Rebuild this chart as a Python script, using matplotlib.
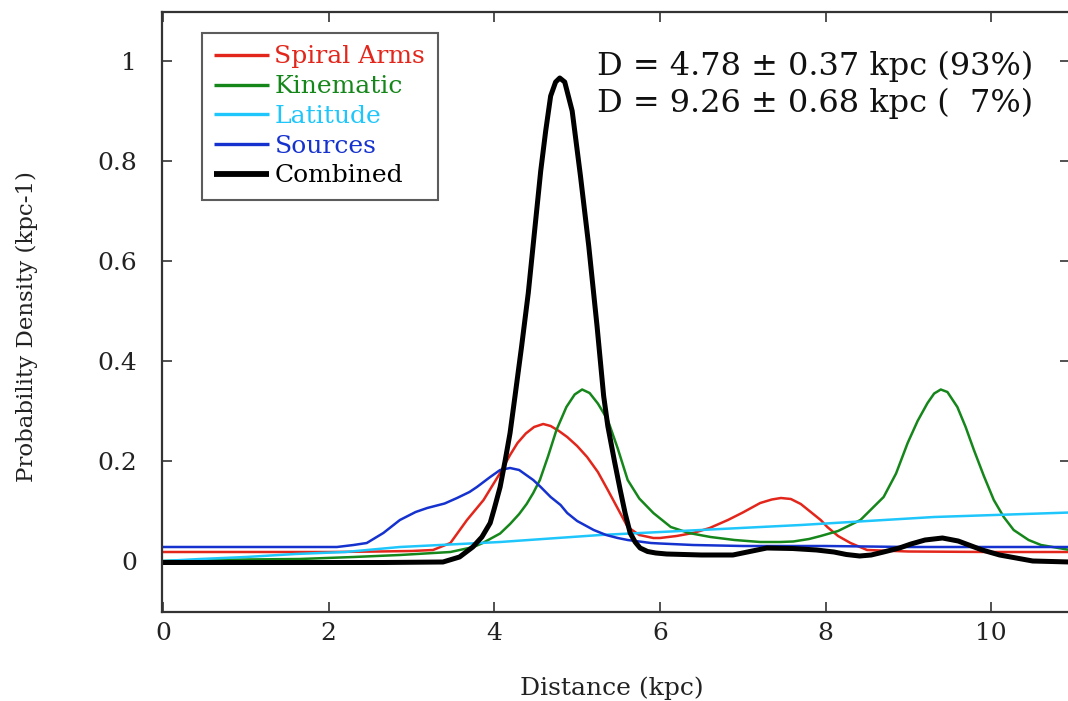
import matplotlib
matplotlib.use("Agg")
import matplotlib.pyplot as plt

plt.rcParams['font.family'] = ['DejaVu Serif']

# ---------------- data ----------------
spiral_x = [0, 1, 2, 2.6, 3.0, 3.26, 3.47, 3.67, 3.87, 4.07, 4.19, 4.28, 4.38, 4.48, 4.59, 4.68, 4.78,
            4.88, 5.0, 5.12, 5.25, 5.37, 5.49, 5.61, 5.75, 5.92, 6.0, 6.2, 6.4, 6.6, 6.82, 7.0, 7.21,
            7.35, 7.46, 7.58, 7.70, 7.82, 7.94, 8.02, 8.15, 8.30, 8.5, 9, 10, 10.95]
spiral_y = [0.018, 0.018, 0.018, 0.019, 0.02, 0.022, 0.036, 0.082, 0.122, 0.176, 0.212, 0.236, 0.255,
            0.268, 0.274, 0.27, 0.26, 0.248, 0.23, 0.208, 0.178, 0.142, 0.105, 0.068, 0.052, 0.046,
            0.046, 0.05, 0.056, 0.066, 0.082, 0.097, 0.116, 0.123, 0.126, 0.124, 0.114, 0.098, 0.082,
            0.068, 0.05, 0.036, 0.022, 0.019, 0.018, 0.018]

kin_x = [0, 0.5, 1.0, 1.65, 2.3, 2.86, 3.47, 3.75, 3.86, 4.07, 4.19, 4.30, 4.39, 4.47, 4.55, 4.65,
         4.75, 4.87, 4.97, 5.06, 5.15, 5.25, 5.37, 5.49, 5.61, 5.75, 5.92, 6.13, 6.35, 6.61, 6.9,
         7.21, 7.45, 7.61, 7.8, 7.94, 8.15, 8.42, 8.70, 8.85, 8.99, 9.11, 9.23, 9.31, 9.39, 9.47,
         9.59, 9.69, 9.79, 9.91, 10.03, 10.15, 10.27, 10.45, 10.6, 10.95]
kin_y = [0, 0.002, 0.003, 0.004, 0.008, 0.012, 0.018, 0.028, 0.036, 0.055, 0.074, 0.094, 0.114, 0.136,
         0.162, 0.21, 0.262, 0.308, 0.333, 0.343, 0.336, 0.315, 0.282, 0.225, 0.162, 0.125, 0.096,
         0.068, 0.056, 0.048, 0.042, 0.038, 0.038, 0.039, 0.044, 0.05, 0.06, 0.082, 0.128, 0.175,
         0.236, 0.28, 0.316, 0.335, 0.343, 0.338, 0.308, 0.268, 0.222, 0.17, 0.122, 0.088, 0.062,
         0.042, 0.032, 0.022]

lat_x = [0, 0.45, 1.0, 1.6, 2.2, 2.86, 4.07, 5.28, 6.49, 7.70, 9.31, 10.95]
lat_y = [0, 0.004, 0.008, 0.014, 0.018, 0.028, 0.038, 0.052, 0.062, 0.072, 0.088, 0.097]

src_x = [0, 1, 2.1, 2.3, 2.46, 2.66, 2.86, 3.05, 3.19, 3.4, 3.55, 3.7, 3.79, 3.95, 4.07, 4.19, 4.3,
         4.47, 4.56, 4.68, 4.80, 4.88, 5.0, 5.20, 5.35, 5.49, 5.61, 5.89, 6.0, 6.40, 7, 8, 9, 10, 10.95]
src_y = [0.028, 0.028, 0.028, 0.032, 0.036, 0.056, 0.082, 0.098, 0.106, 0.115, 0.126, 0.138, 0.148,
         0.168, 0.182, 0.186, 0.182, 0.162, 0.148, 0.128, 0.112, 0.096, 0.08, 0.062, 0.052, 0.046,
         0.042, 0.036, 0.035, 0.032, 0.03, 0.03, 0.028, 0.028, 0.028]

comb_x = [0, 1, 2, 2.66, 3.38, 3.58, 3.74, 3.85, 3.95, 4.0, 4.07, 4.13, 4.19, 4.25, 4.33, 4.41, 4.48,
          4.56, 4.62, 4.68, 4.74, 4.79, 4.85, 4.94, 5.04, 5.14, 5.24, 5.32, 5.37, 5.45, 5.52, 5.58,
          5.64, 5.70, 5.76, 5.85, 5.95, 6.08, 6.5, 6.88, 7.29, 7.6, 7.89, 8.1, 8.25, 8.41, 8.55, 8.7,
          8.89, 9.03, 9.2, 9.41, 9.6, 9.89, 10.1, 10.3, 10.5, 10.95]
comb_y = [-0.003, -0.003, -0.003, -0.003, -0.002, 0.008, 0.028, 0.048, 0.076, 0.105, 0.148, 0.2, 0.256,
          0.33, 0.43, 0.536, 0.65, 0.78, 0.86, 0.93, 0.958, 0.966, 0.958, 0.90, 0.77, 0.63, 0.47,
          0.33, 0.27, 0.20, 0.142, 0.095, 0.056, 0.038, 0.026, 0.019, 0.016, 0.014, 0.012, 0.012,
          0.026, 0.025, 0.022, 0.018, 0.013, 0.010, 0.012, 0.018, 0.026, 0.034, 0.042, 0.046, 0.04,
          0.022, 0.012, 0.006, 0.0, -0.002]

series = [
    ("Spiral Arms", spiral_x, spiral_y, "#e3261b", 1.8),
    ("Kinematic", kin_x, kin_y, "#15861a", 1.8),
    ("Latitude", lat_x, lat_y, "#1fc6fb", 1.8),
    ("Sources", src_x, src_y, "#1532cf", 1.8),
    ("Combined", comb_x, comb_y, "#000000", 3.6),
]

x_ticks = [0, 2, 4, 6, 8, 10]
y_ticks = [0, 0.2, 0.4, 0.6, 0.8, 1]
y_tick_labels = ["0", "0.2", "0.4", "0.6", "0.8", "1"]

# ---------------- figure ----------------
W, H = 1068, 701
fig = plt.figure(figsize=(W / 100, H / 100), dpi=100)
ax = fig.add_axes([162 / W, (H - 612) / H, 908 / W, 600 / H])

for name, xs, ys, col, lw in series:
    ax.plot(xs, ys, color=col, lw=lw, label=name, solid_joinstyle='round',
            solid_capstyle='butt')

ax.set_xlim(-0.012, 10.95)
ax.set_ylim(-0.102, 1.098)
ax.set_xticks(x_ticks)
ax.set_xticklabels([str(t) for t in x_ticks])
ax.set_yticks(y_ticks)
ax.set_yticklabels(y_tick_labels)

for s in ax.spines.values():
    s.set_color("#333333")
    s.set_linewidth(1.6)
ax.tick_params(direction='in', length=7, width=1.2, color="#333333",
               top=True, right=True, labelsize=18, labelcolor="#222222")
ax.tick_params(axis='x', pad=7)
ax.tick_params(axis='y', pad=18)

ax.set_xlabel("Distance (kpc)", fontsize=18, color="#222222")
ax.set_ylabel("Probability Density (kpc-1)", fontsize=16.5, color="#222222")
ax.xaxis.set_label_coords(0.495, -0.108)
ax.yaxis.set_label_coords(-0.137, 0.475)

leg = ax.legend(loc='upper left', bbox_to_anchor=(0.044, 0.965), borderaxespad=0,
                fancybox=False, frameon=True, fontsize=18, handlelength=2.2,
                handletextpad=0.2, labelspacing=0.27, borderpad=0.5)
leg.get_frame().set_edgecolor("#333333")
leg.get_frame().set_linewidth(1.5)
for txt, (name, xs, ys, col, lw) in zip(leg.get_texts(), series):
    txt.set_color(col)
for line, (name, xs, ys, col, lw) in zip(leg.get_lines(), series):
    line.set_linewidth(lw + 0.6)

fig.text(597 / W, 1 - 66 / H, "D = 4.78 ± 0.37 kpc (93%)", fontsize=23, va='center', ha='left',
         color="#111111")
fig.text(597 / W, 1 - 103 / H, "D = 9.26 ± 0.68 kpc (  7%)", fontsize=23, va='center', ha='left',
         color="#111111")

fig.savefig("out.png", dpi=100)
